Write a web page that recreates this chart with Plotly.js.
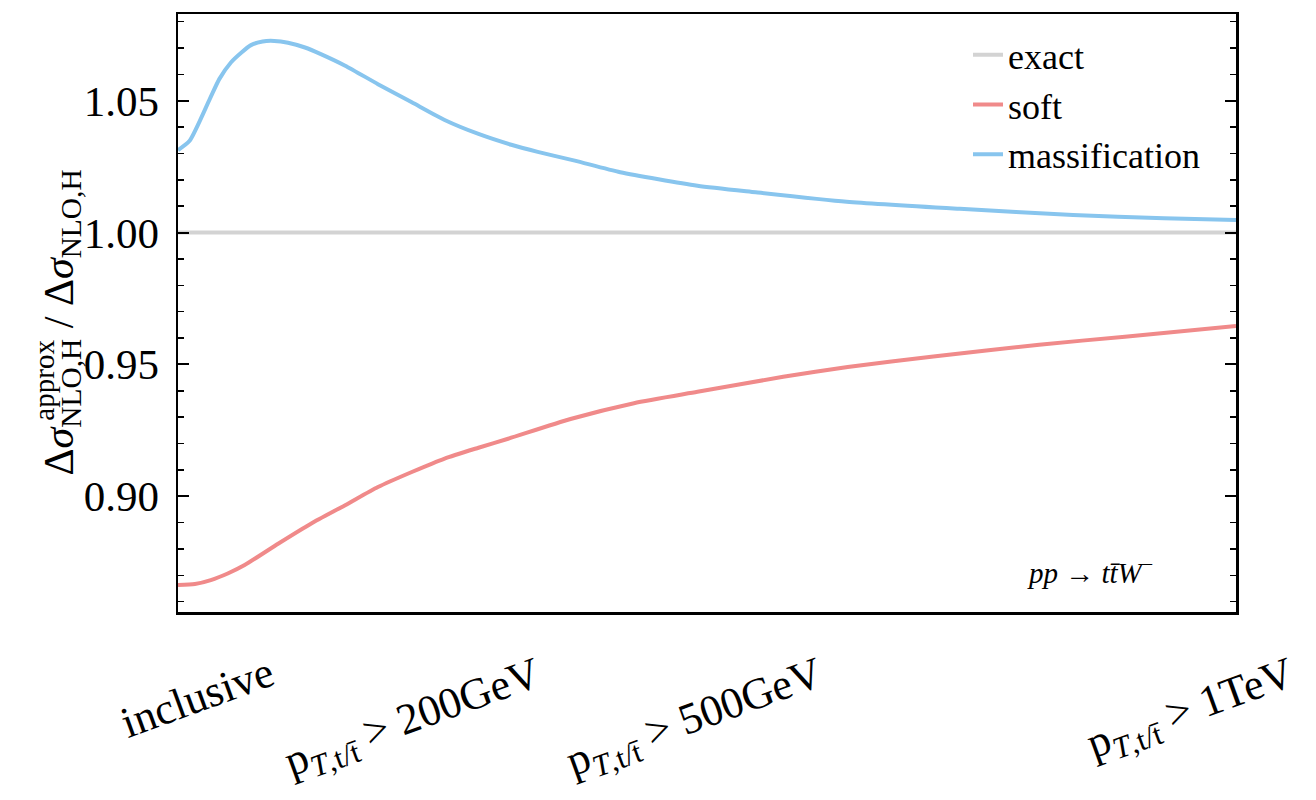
<!DOCTYPE html>
<html>
<head>
<meta charset="utf-8">
<script src="https://cdn.plot.ly/plotly-3.0.1.min.js"></script>
<style>
  html, body { margin: 0; padding: 0; background: #ffffff; }
  #plot { width: 1316px; height: 800px; }
</style>
</head>
<body>
<div id="plot"></div>
<script>
// Position along the pT-cut scan (0 = inclusive, 1 = highest cut) and the ratios
const cutMass = [0.000, 0.011, 0.030, 0.039, 0.050, 0.060, 0.069, 0.080, 0.091, 0.104,
                 0.120, 0.135, 0.158, 0.189, 0.221, 0.252, 0.284, 0.315, 0.340, 0.375,
                 0.418, 0.491, 0.546, 0.632, 0.739, 0.846, 0.932, 1.000];
const massification = [1.0313, 1.0348, 1.0506, 1.0582, 1.0645, 1.0683, 1.0711, 1.0725, 1.0727, 1.0720,
                       1.0702, 1.0677, 1.0633, 1.0563, 1.0494, 1.0427, 1.0374, 1.0333, 1.0306, 1.0273,
                       1.0229, 1.0178, 1.0153, 1.0117, 1.0090, 1.0067, 1.0054, 1.0048];

const cutSoft = [0.000, 0.016, 0.031, 0.047, 0.063, 0.095, 0.126, 0.158, 0.189, 0.221,
                 0.252, 0.284, 0.312, 0.371, 0.431, 0.491, 0.572, 0.633, 0.714, 0.814,
                 0.895, 1.000];
const soft = [0.8663, 0.8667, 0.8682, 0.8707, 0.8739, 0.8821, 0.8897, 0.8966, 0.9035, 0.9092,
              0.9143, 0.9184, 0.9218, 0.9293, 0.9353, 0.9396, 0.9453, 0.9490, 0.9530, 0.9575,
              0.9605, 0.9646];

const cutExact = [0, 1];
const exact = [1.0, 1.0];

// Category labels along the cut axis
const tickPos = [0.018, 0.223, 0.489, 0.958];
const tickText = [
  'inclusive',
  'p<sub><i>T</i>,t/t\u0304</sub> > 200GeV',
  'p<sub><i>T</i>,t/t\u0304</sub> > 500GeV',
  'p<sub><i>T</i>,t/t\u0304</sub> > 1TeV'
];

const yTicks = [0.90, 0.95, 1.00, 1.05];

const serif = 'Liberation Serif, DejaVu Serif, serif';

const traces = [
  { x: cutExact, y: exact, name: 'exact', mode: 'lines', legendgroup: 'a',
    line: { color: '#d3d3d3', width: 4 } },
  { x: cutSoft, y: soft, name: 'soft', mode: 'lines', legendgroup: 'b',
    line: { color: '#f08a8a', width: 4, shape: 'spline', smoothing: 0.6 } },
  { x: cutMass, y: massification, name: 'massification', mode: 'lines', legendgroup: 'c',
    line: { color: '#88c5ee', width: 4, shape: 'spline', smoothing: 0.6 } }
];

const annotations = tickPos.map((p, i) => ({
  x: p, xref: 'x', y: -0.055, yref: 'paper',
  text: tickText[i], showarrow: false, textangle: -20,
  xanchor: 'center', yanchor: 'top',
  font: { family: serif, size: 44, color: '#000' }
}));

// y-axis label: base symbols with subscripts, plus the stacked superscript
annotations.push({
  x: -0.1096, xref: 'paper', y: 0.225, yref: 'paper',
  text: '\u0394<i>\u03c3</i><sub>NLO,H</sub> / \u0394<i>\u03c3</i><sub>NLO,H</sub>',
  showarrow: false, textangle: -90, xanchor: 'center', yanchor: 'bottom',
  font: { family: serif, size: 42, color: '#000' }
});
annotations.push({
  x: -0.1275, xref: 'paper', y: 0.316, yref: 'paper',
  text: 'approx',
  showarrow: false, textangle: -90, xanchor: 'center', yanchor: 'bottom',
  font: { family: serif, size: 29, color: '#000' }
});

annotations.push({
  x: 0.862, xref: 'paper', y: 0.0686, yref: 'paper',
  text: '<i>pp</i> \u2192 <i>tt\u0304W</i><sup>\u2212</sup>',
  showarrow: false, xanchor: 'center', yanchor: 'middle',
  font: { family: serif, size: 29, color: '#000' }
});

const layout = {
  width: 1316, height: 800,
  margin: { l: 178, r: 80, t: 14, b: 188 },
  paper_bgcolor: '#ffffff', plot_bgcolor: '#ffffff',
  showlegend: true,
  legend: {
    x: 0.7467, y: 0.982, xanchor: 'left', yanchor: 'top',
    traceorder: 'grouped', tracegroupgap: 0,
    bgcolor: 'rgba(0,0,0,0)', borderwidth: 0,
    font: { family: serif, size: 36, color: '#000' }
  },
  xaxis: {
    range: [0, 1], showgrid: false, zeroline: false,
    showline: true, mirror: true, linecolor: '#000', linewidth: 2.5,
    ticks: '', showticklabels: false, fixedrange: true
  },
  yaxis: {
    range: [0.8561, 1.0829], showgrid: false, zeroline: false,
    showline: true, mirror: 'allticks', linecolor: '#000', linewidth: 2.5,
    ticks: 'inside', ticklen: 11, tickwidth: 2, tickcolor: '#000',
    tickvals: yTicks, ticktext: yTicks.map(v => v.toFixed(2)),
    ticklabelstandoff: 8,
    tickfont: { family: serif, size: 43, color: '#000' },
    minor: { dtick: 0.01, tick0: 0, ticks: 'inside', ticklen: 6, tickwidth: 1.5, tickcolor: '#000' },
    fixedrange: true
  },
  annotations: annotations
};

Plotly.newPlot('plot', traces, layout, { displayModeBar: false, staticPlot: true });
</script>
</body>
</html>
